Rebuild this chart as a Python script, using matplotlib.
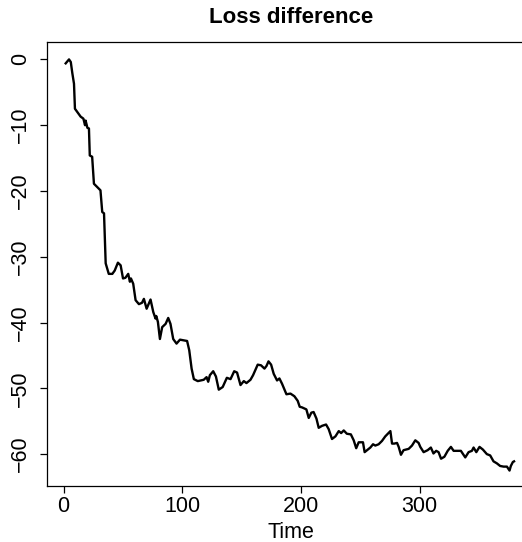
import matplotlib.pyplot as plt

plt.rcParams['font.family'] = ['Liberation Sans', 'DejaVu Sans']

# cumulative loss difference over time
time = [1.7, 4.5, 6, 7.3, 8.7, 9.5, 11.5, 14.3, 16.6, 18, 18.5, 20, 21.3, 22, 24, 25.5, 28.3, 31,
        32.5, 34, 35.4, 38, 41, 43, 45.7, 48, 50, 52, 54.4, 55.8, 56.7, 58.6, 60.6, 63.4, 66,
        67.6, 69.9, 73.2, 75.5, 77.4, 78, 79.4, 81.1, 83, 85.9, 88.1, 90, 92.3, 95.1, 98, 104,
        105.8, 107.8, 109.7, 113, 118, 120.4, 121.8, 123.2, 126, 128.3, 130.7, 134, 137.5,
        140.6, 143.7, 146.1, 149, 151.8, 154, 157.4, 159.6, 163.5, 166.3, 169.2, 170.9, 172.6,
        174.8, 177, 179.8, 181.8, 184, 187.7, 191.1, 194.4, 197.2, 198.9, 200.9, 204.5, 206.5,
        208.7, 210.6, 213, 214.9, 217.7, 221.1, 223.3, 226.1, 229, 231.8, 233.8, 236, 238.6,
        242, 244.4, 246.5, 248.6, 252.2, 253.6, 255.6, 258.4, 260.7, 262.6, 265.4, 268.2, 271,
        275.3, 276.7, 278.6, 280.9, 282.3, 284.2, 286.4, 290.7, 293.5, 296.3, 299.1, 300.5,
        303.3, 306.7, 309.4, 311.6, 313.9, 315.9, 318, 320.8, 323.6, 326.3, 328.6, 331.4,
        334.7, 338.4, 341.2, 344, 345.4, 347.7, 350.4, 353.2, 356.6, 359.4, 362.2, 365, 367.8,
        370.7, 373.5, 375.7, 376.8, 378.5, 379.5]
loss_diff = [-0.6, 0.0, -0.4, -2.1, -3.7, -7.5, -8.0, -8.7, -9.0, -10.0, -9.3, -10.4, -10.5,
             -14.6, -14.8, -18.9, -19.4, -19.9, -23.2, -23.4, -31.0, -32.6, -32.6, -32.1,
             -30.9, -31.3, -33.3, -33.2, -32.6, -33.8, -33.3, -34.1, -36.6, -37.2, -37.0,
             -36.4, -37.9, -36.5, -38.4, -39.4, -39.0, -39.9, -42.5, -40.7, -40.2, -39.3,
             -40.2, -42.5, -43.2, -42.6, -42.8, -44.2, -47.0, -48.6, -48.9, -48.7, -48.3,
             -49.0, -48.0, -47.4, -48.2, -50.2, -49.8, -48.4, -48.6, -47.4, -47.6, -49.5,
             -48.9, -49.2, -48.7, -48.0, -46.4, -46.5, -47.0, -46.6, -45.9, -46.4, -47.8,
             -48.8, -48.5, -49.3, -50.9, -50.8, -51.2, -51.9, -52.8, -52.9, -53.2, -54.5,
             -53.7, -53.6, -54.6, -56.0, -55.7, -55.5, -56.2, -57.7, -57.3, -56.5, -56.8,
             -56.4, -56.9, -57.0, -57.9, -59.1, -58.2, -58.2, -59.7, -59.4, -59.0, -58.5,
             -58.7, -58.5, -58.0, -57.3, -56.5, -58.4, -58.4, -58.3, -58.9, -60.1, -59.4,
             -59.2, -58.7, -57.9, -58.3, -58.9, -59.7, -59.4, -59.0, -59.9, -59.5, -59.7,
             -60.7, -60.4, -59.5, -58.9, -59.5, -59.5, -59.5, -60.5, -59.7, -59.5, -59.0,
             -59.7, -58.9, -59.3, -60.0, -60.2, -61.1, -61.4, -61.8, -61.9, -61.9, -62.5,
             -61.8, -61.2, -61.1]

x_ticks = [0, 100, 200, 300]
y_ticks = [0, -10, -20, -30, -40, -50, -60]

fig = plt.figure(figsize=(5.22, 5.42), dpi=100)
ax = fig.add_axes([46.7 / 522, 56.3 / 542, (536 - 46.7) / 522, 443.4 / 542])

ax.plot(time, loss_diff, color='black', linewidth=1.7)

ax.set_xlim(-14.3, 398)
ax.set_ylim(-64.8, 2.6)
ax.set_xticks(x_ticks)
ax.set_yticks(y_ticks)
ax.set_yticklabels(['\u2212' + str(-v) if v < 0 else str(v) for v in y_ticks])

for side in ax.spines.values():
    side.set_linewidth(0.9)
ax.tick_params(direction='out', length=5.2, width=0.9, labelsize=15.5)
ax.tick_params(axis='x', pad=2)
ax.tick_params(axis='y', pad=6, labelrotation=90)
for lbl in ax.get_yticklabels():
    lbl.set_va('center')

ax.set_xlabel('Time', fontsize=15.5, labelpad=4)
ax.set_title('Loss difference', fontsize=16, fontweight='bold', pad=14)

plt.savefig('out.png', dpi=100)
